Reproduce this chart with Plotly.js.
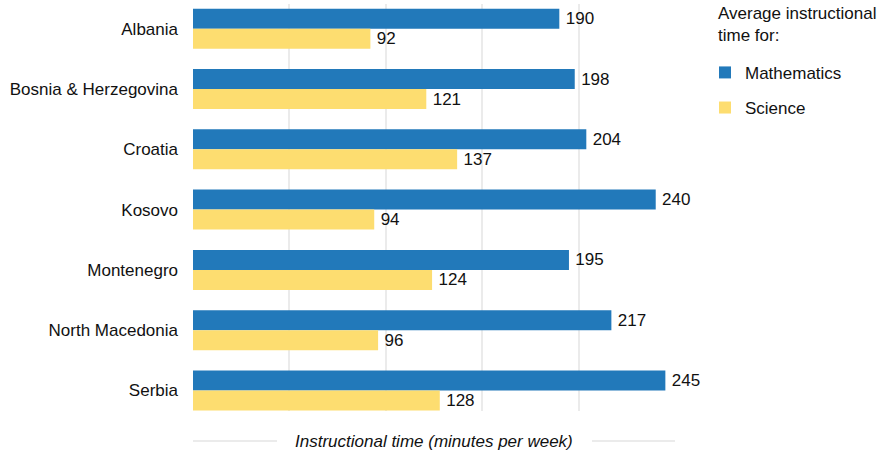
<!DOCTYPE html>
<html>
<head>
<meta charset="utf-8">
<script src="https://cdn.plot.ly/plotly-3.0.1.min.js"></script>
<style>html,body{margin:0;padding:0;background:#fff;}#chart{width:885px;height:453px;}</style>
</head>
<body>
<div id="chart"></div>
<script>
var countries = ["Albania", "Bosnia & Herzegovina", "Croatia", "Kosovo", "Montenegro", "North Macedonia", "Serbia"];
var mathematics = [190, 198, 204, 240, 195, 217, 245];
var science = [92, 121, 137, 94, 124, 96, 128];
var seriesNames = ["Mathematics", "Science"];
var legendTitle = "Average instructional<br>time for:";
var axisTitle = "Instructional time (minutes per week)";

var FONT = "Liberation Sans, Arial, sans-serif";
var FS = 17;
var traces = [
  {type: "bar", orientation: "h", name: seriesNames[0], y: countries, x: mathematics,
   marker: {color: "#2279ba"}, texttemplate: "\u2009%{x}", textposition: "outside",
   textfont: {size: FS, color: "#111"},
   cliponaxis: false, legendgroup: "m", hoverinfo: "x+name"},
  {type: "bar", orientation: "h", name: seriesNames[1], y: countries, x: science,
   marker: {color: "#fddd70"}, texttemplate: "\u2009%{x}", textposition: "outside",
   textfont: {size: FS, color: "#111"},
   cliponaxis: false, legendgroup: "s", hoverinfo: "x+name"}
];
var layout = {
  width: 885, height: 453,
  margin: {l: 193, r: 210, t: 4, b: 42},
  paper_bgcolor: "#fff", plot_bgcolor: "#fff",
  font: {family: FONT, size: FS, color: "#111"},
  barmode: "group", bargap: 0.337, bargroupgap: 0,
  xaxis: {range: [0, 250], showticklabels: false, ticks: "", showgrid: true,
          gridcolor: "#ebebeb", gridwidth: 2, zeroline: false, showline: false,
          dtick: 50, fixedrange: true},
  yaxis: {type: "category", range: [6.34, -0.41], showgrid: false, zeroline: false,
          ticks: "", ticklabelstandoff: 14, tickfont: {size: FS, color: "#111"}},
  showlegend: true,
  legend: {x: 0, xref: "paper", y: 0.875, yanchor: "top", traceorder: "grouped",
           tracegroupgap: 10, font: {size: FS, color: "#111"}, bgcolor: "rgba(0,0,0,0)"},
  annotations: [
    {text: legendTitle, xref: "paper", yref: "paper", x: (716 - 193) / 482, y: 1.005,
     xanchor: "left", yanchor: "top", align: "left", showarrow: false,
     font: {size: FS, color: "#111"}},
    {text: "<i>" + axisTitle + "</i>", xref: "paper", yref: "paper", x: 0.5,
     y: (411 - 441) / 407, xanchor: "center", yanchor: "middle", showarrow: false,
     font: {size: FS, color: "#111"}}
  ],
  shapes: [
    {type: "line", xref: "paper", yref: "paper", x0: 0, x1: (277 - 193) / 482,
     y0: (411 - 441) / 407, y1: (411 - 441) / 407, line: {color: "#ebebeb", width: 2}},
    {type: "line", xref: "paper", yref: "paper", x0: (592 - 193) / 482, x1: 1,
     y0: (411 - 441) / 407, y1: (411 - 441) / 407, line: {color: "#ebebeb", width: 2}}
  ]
};
layout.legend.x = (705 - 193) / 482;
Plotly.newPlot("chart", traces, layout, {displayModeBar: false, staticPlot: true});
</script>
</body>
</html>
